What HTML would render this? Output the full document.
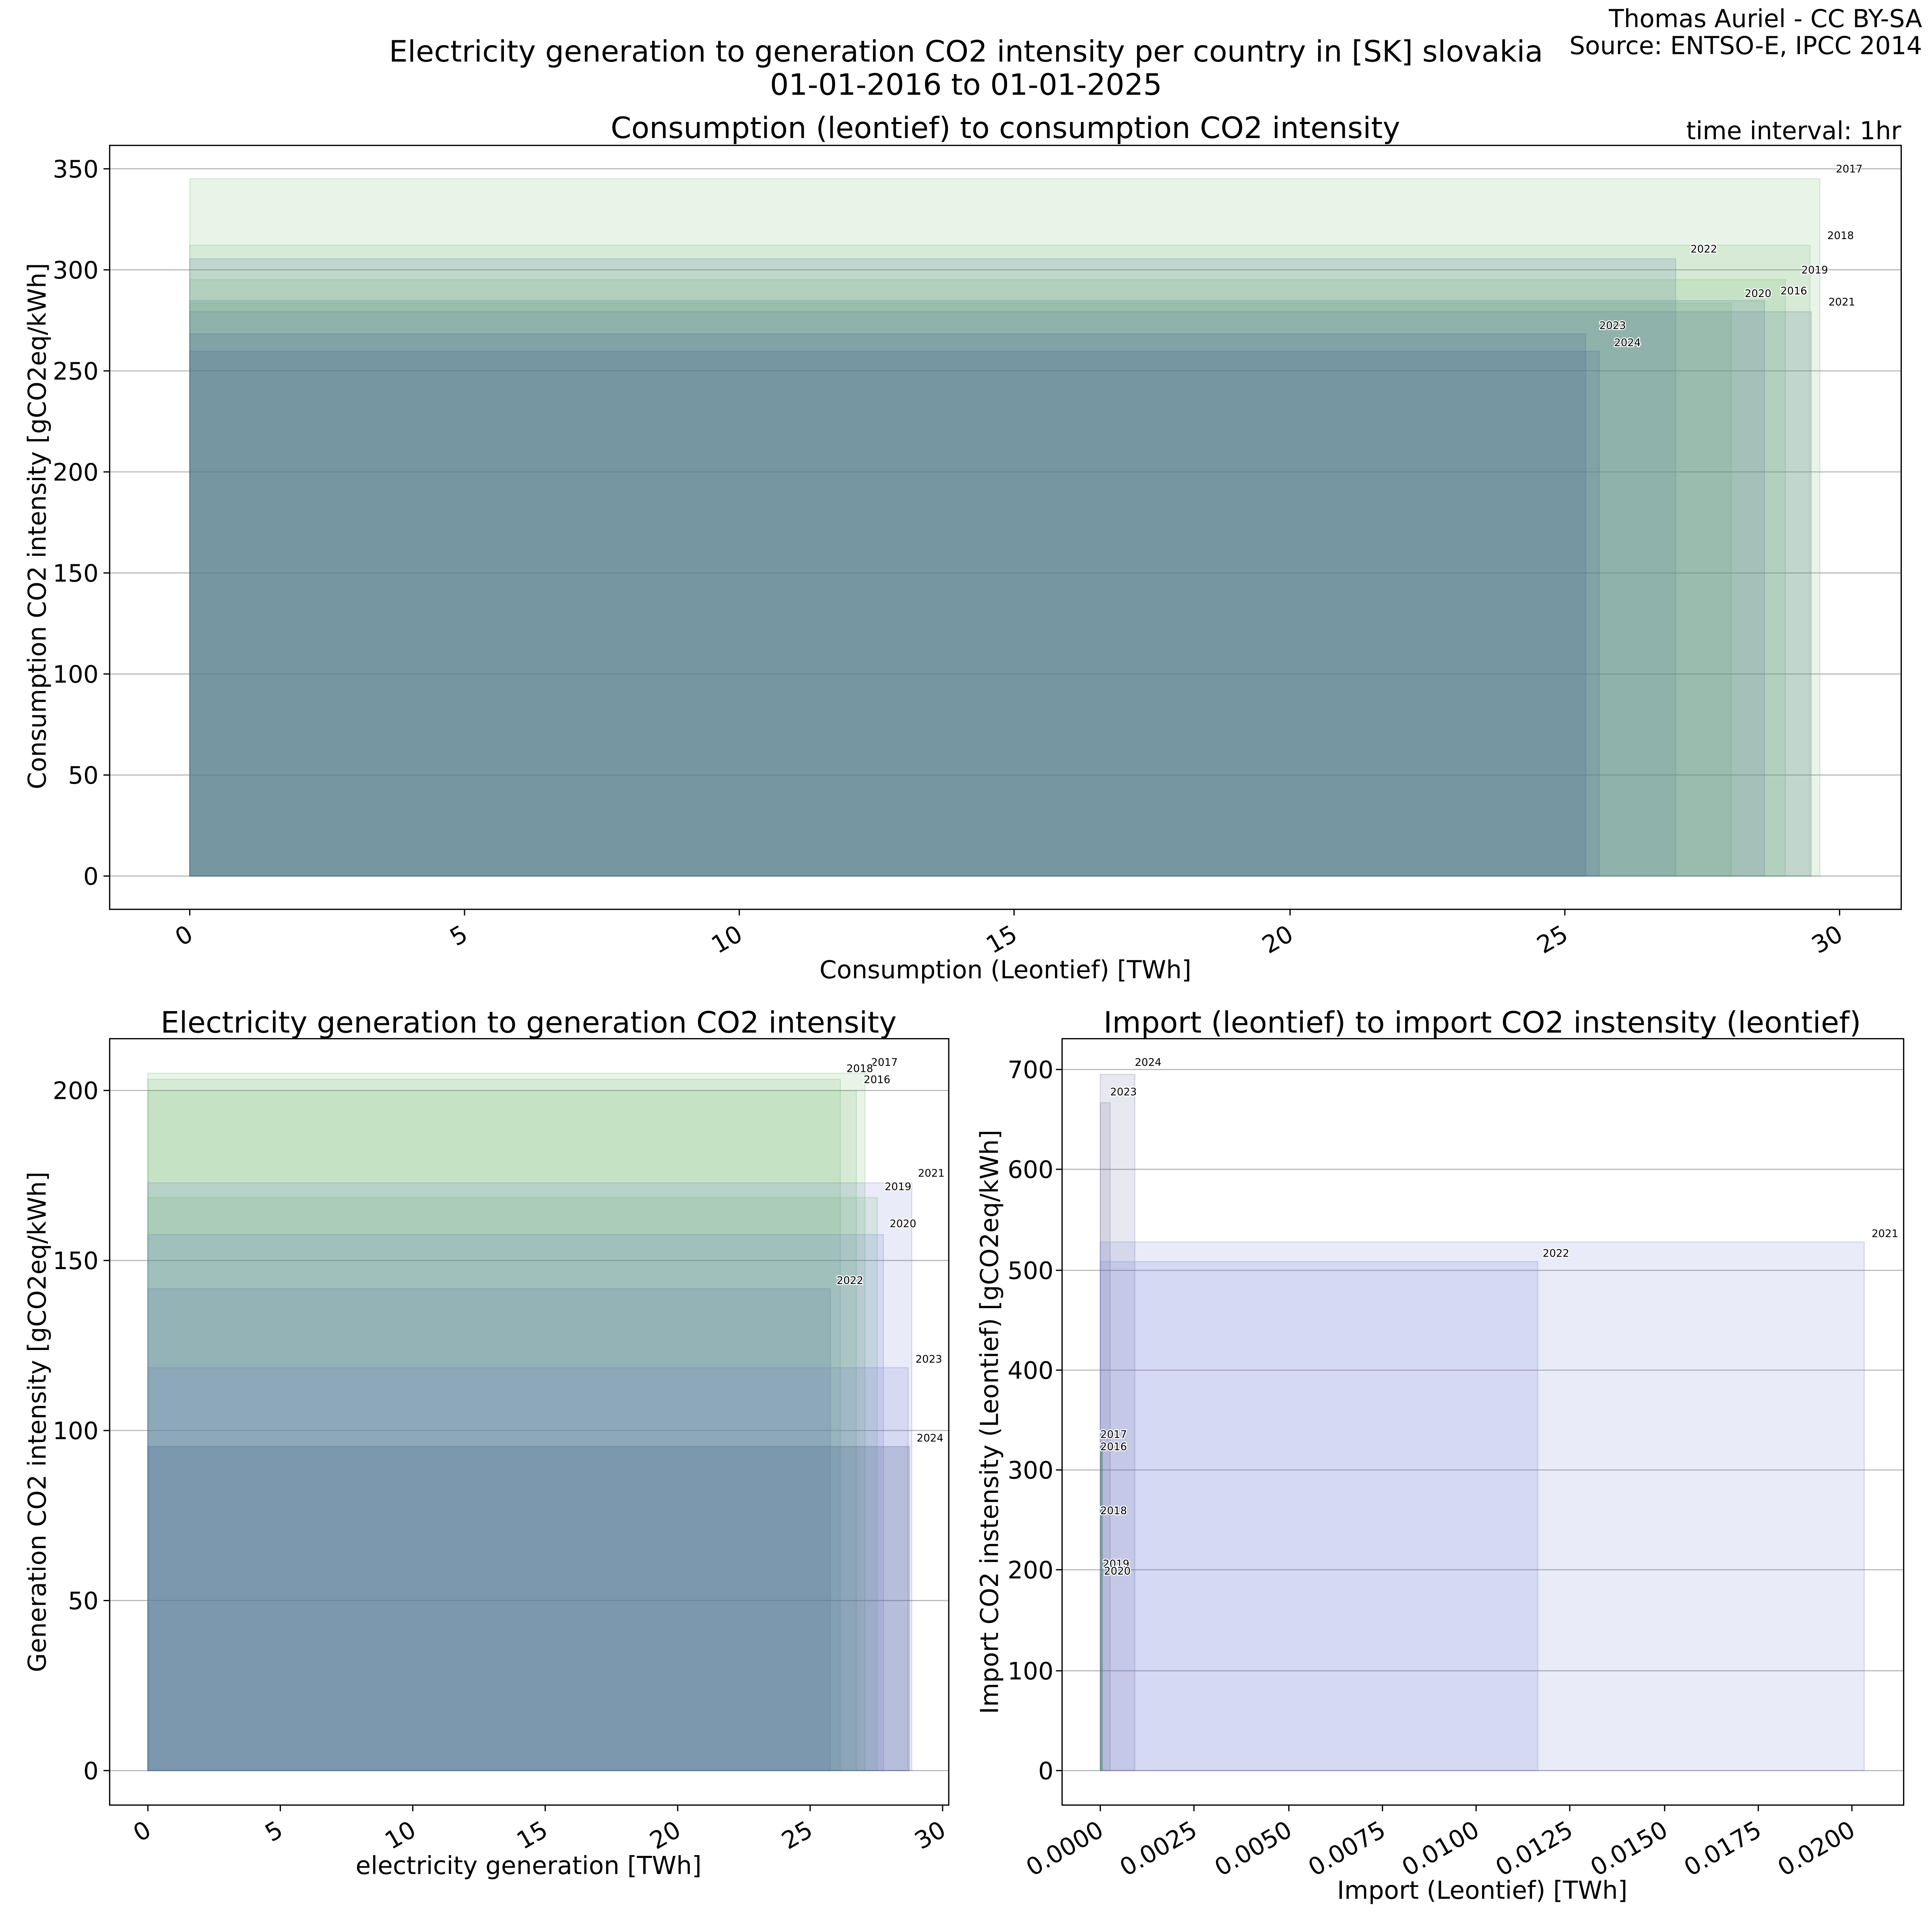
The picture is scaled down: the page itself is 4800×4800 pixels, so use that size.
<!DOCTYPE html>
<html><head><meta charset="utf-8"><style>
html,body{margin:0;padding:0;background:#fff}
svg{display:block}
text{font-family:"DejaVu Sans","Liberation Sans",sans-serif;fill:#000}
.t{font-size:19.5px}
.yl{font-size:8.5px;paint-order:stroke;stroke:#fff;stroke-width:1.6px}
.g{stroke:#b0b0b0;stroke-width:0.8}
.G{fill:rgb(102,175,102);fill-opacity:.14;stroke:rgb(102,175,102);stroke-opacity:.25;stroke-width:.8}
.B{fill:rgb(102,115,208);fill-opacity:.14;stroke:rgb(102,115,208);stroke-opacity:.25;stroke-width:.8}
.S{fill:rgb(90,120,160);fill-opacity:.17;stroke:rgb(90,120,160);stroke-opacity:.25;stroke-width:.8}
.K{fill:rgb(102,102,153);fill-opacity:.15;stroke:rgb(102,102,153);stroke-opacity:.25;stroke-width:.8}
.T{fill:rgb(75,105,150);fill-opacity:.2;stroke:rgb(75,105,150);stroke-opacity:.25;stroke-width:.8}
.T2{fill:rgb(60,85,130);fill-opacity:.2;stroke:rgb(60,85,130);stroke-opacity:.25;stroke-width:.8}
.h{font-size:24px}
.a{font-size:20px}
</style></head><body>
<svg width="4800" height="4800" viewBox="0 0 1568 1568" xmlns="http://www.w3.org/2000/svg">
<rect width="1568" height="1568" fill="#fff"/>
<text x="1560" y="22" text-anchor="end" class="a">Thomas Auriel - CC BY-SA</text>
<text x="1560" y="44" text-anchor="end" class="a">Source: ENTSO-E, IPCC 2014</text>
<text x="784" y="50" text-anchor="middle" class="h">Electricity generation to generation CO2 intensity per country in [SK] slovakia</text>
<text x="784" y="77" text-anchor="middle" class="h">01-01-2016 to 01-01-2025</text>

<!-- TOP CHART -->
<text x="816" y="112" text-anchor="middle" class="h">Consumption (leontief) to consumption CO2 intensity</text>
<text x="1543" y="113" text-anchor="end" class="a">time interval: 1hr</text>
<g>
<line class="g" x1="89" x2="1543" y1="711" y2="711"/>
<line class="g" x1="89" x2="1543" y1="629" y2="629"/>
<line class="g" x1="89" x2="1543" y1="547" y2="547"/>
<line class="g" x1="89" x2="1543" y1="465" y2="465"/>
<line class="g" x1="89" x2="1543" y1="383" y2="383"/>
<line class="g" x1="89" x2="1543" y1="301" y2="301"/>
<line class="g" x1="89" x2="1543" y1="219" y2="219"/>
<line class="g" x1="89" x2="1543" y1="137" y2="137"/>
</g>
<rect class="G" x="154" y="145" width="1323" height="566"/>
<rect class="G" x="154" y="199" width="1315" height="512"/>
<rect class="S" x="154" y="210" width="1206" height="501"/>
<rect class="G" x="154" y="227" width="1295" height="484"/>
<rect class="S" x="154" y="244" width="1278" height="467"/>
<rect class="G" x="154" y="246" width="1251" height="465"/>
<rect class="S" x="154" y="253" width="1316" height="458"/>
<rect class="T" x="154" y="271" width="1133" height="440"/>
<rect class="T" x="154" y="285" width="1144" height="426"/>
<g class="yl">
<text x="1490" y="140">2017</text><text x="1483" y="194">2018</text><text x="1372" y="205">2022</text>
<text x="1462" y="222">2019</text><text x="1445" y="239">2016</text><text x="1416" y="241">2020</text>
<text x="1484" y="248">2021</text><text x="1298" y="267">2023</text><text x="1310" y="281">2024</text>
</g>
<rect x="89" y="118" width="1454" height="620" fill="none" stroke="#000" stroke-width="1"/>
<g class="t" text-anchor="end">
<text x="80" y="718">0</text><text x="80" y="636">50</text><text x="80" y="554">100</text><text x="80" y="472">150</text>
<text x="80" y="390">200</text><text x="80" y="308">250</text><text x="80" y="226">300</text><text x="80" y="144">350</text>
</g>
<g stroke="#000" stroke-width="1">
<line x1="84" x2="89" y1="711" y2="711"/><line x1="84" x2="89" y1="629" y2="629"/><line x1="84" x2="89" y1="547" y2="547"/><line x1="84" x2="89" y1="465" y2="465"/><line x1="84" x2="89" y1="383" y2="383"/><line x1="84" x2="89" y1="301" y2="301"/><line x1="84" x2="89" y1="219" y2="219"/><line x1="84" x2="89" y1="137" y2="137"/>
<line y1="738" y2="743" x1="154" x2="154"/><line y1="738" y2="743" x1="377" x2="377"/><line y1="738" y2="743" x1="600" x2="600"/><line y1="738" y2="743" x1="823" x2="823"/><line y1="738" y2="743" x1="1047" x2="1047"/><line y1="738" y2="743" x1="1270" x2="1270"/><line y1="738" y2="743" x1="1493" x2="1493"/>
</g>
<g class="t" text-anchor="end">
<text transform="translate(158,762) rotate(-30)">0</text>
<text transform="translate(381,762) rotate(-30)">5</text>
<text transform="translate(604,762) rotate(-30)">10</text>
<text transform="translate(827,762) rotate(-30)">15</text>
<text transform="translate(1051,762) rotate(-30)">20</text>
<text transform="translate(1274,762) rotate(-30)">25</text>
<text transform="translate(1497,762) rotate(-30)">30</text>
</g>
<text x="816" y="794" text-anchor="middle" class="a">Consumption (Leontief) [TWh]</text>
<text transform="translate(37,427) rotate(-90)" text-anchor="middle" class="a">Consumption CO2 intensity [gCO2eq/kWh]</text>

<!-- BOTTOM LEFT -->
<text x="429" y="838" text-anchor="middle" class="h">Electricity generation to generation CO2 intensity</text>
<g>
<line class="g" x1="89" x2="770" y1="1437" y2="1437"/><line class="g" x1="89" x2="770" y1="1299" y2="1299"/>
<line class="g" x1="89" x2="770" y1="1161" y2="1161"/><line class="g" x1="89" x2="770" y1="1023" y2="1023"/>
<line class="g" x1="89" x2="770" y1="885" y2="885"/>
</g>
<rect class="G" x="120" y="871" width="582" height="566"/>
<rect class="G" x="120" y="876" width="562" height="561"/>
<rect class="G" x="120" y="885" width="575" height="552"/>
<rect class="B" x="120" y="960" width="620" height="477"/>
<rect class="G" x="120" y="972" width="592" height="465"/>
<rect class="B" x="120" y="1002" width="597" height="435"/>
<rect class="S" x="120" y="1046" width="554" height="391"/>
<rect class="B" x="120" y="1110" width="617" height="327"/>
<rect class="T2" x="120" y="1174" width="618" height="263"/>
<g class="yl">
<text x="707" y="865">2017</text><text x="687" y="870">2018</text><text x="701" y="879">2016</text>
<text x="745" y="955">2021</text><text x="718" y="966">2019</text><text x="722" y="996">2020</text>
<text x="679" y="1042">2022</text><text x="743" y="1106">2023</text><text x="744" y="1170">2024</text>
</g>
<rect x="89" y="843" width="681" height="622" fill="none" stroke="#000" stroke-width="1"/>
<g class="t" text-anchor="end">
<text x="80" y="1444">0</text><text x="80" y="1306">50</text><text x="80" y="1168">100</text><text x="80" y="1030">150</text><text x="80" y="892">200</text>
</g>
<g stroke="#000" stroke-width="1">
<line x1="84" x2="89" y1="1437" y2="1437"/><line x1="84" x2="89" y1="1299" y2="1299"/><line x1="84" x2="89" y1="1161" y2="1161"/><line x1="84" x2="89" y1="1023" y2="1023"/><line x1="84" x2="89" y1="885" y2="885"/>
<line y1="1465" y2="1470" x1="120" x2="120"/><line y1="1465" y2="1470" x1="227.5" x2="227.5"/><line y1="1465" y2="1470" x1="335" x2="335"/><line y1="1465" y2="1470" x1="442.5" x2="442.5"/><line y1="1465" y2="1470" x1="550" x2="550"/><line y1="1465" y2="1470" x1="657.5" x2="657.5"/><line y1="1465" y2="1470" x1="765" x2="765"/>
</g>
<g class="t" text-anchor="end">
<text transform="translate(124,1489) rotate(-30)">0</text>
<text transform="translate(231,1489) rotate(-30)">5</text>
<text transform="translate(339,1489) rotate(-30)">10</text>
<text transform="translate(446,1489) rotate(-30)">15</text>
<text transform="translate(554,1489) rotate(-30)">20</text>
<text transform="translate(661,1489) rotate(-30)">25</text>
<text transform="translate(769,1489) rotate(-30)">30</text>
</g>
<text x="429" y="1521" text-anchor="middle" class="a">electricity generation [TWh]</text>
<text transform="translate(37,1154) rotate(-90)" text-anchor="middle" class="a">Generation CO2 intensity [gCO2eq/kWh]</text>

<!-- BOTTOM RIGHT -->
<text x="1203" y="838" text-anchor="middle" class="h">Import (leontief) to import CO2 instensity (leontief)</text>
<g>
<line class="g" x1="862" x2="1545" y1="1437" y2="1437"/><line class="g" x1="862" x2="1545" y1="1356" y2="1356"/>
<line class="g" x1="862" x2="1545" y1="1274" y2="1274"/><line class="g" x1="862" x2="1545" y1="1193" y2="1193"/>
<line class="g" x1="862" x2="1545" y1="1112" y2="1112"/><line class="g" x1="862" x2="1545" y1="1031" y2="1031"/>
<line class="g" x1="862" x2="1545" y1="949" y2="949"/><line class="g" x1="862" x2="1545" y1="868" y2="868"/>
</g>
<rect class="K" x="893" y="872" width="28" height="565"/>
<rect class="K" x="893" y="895" width="8" height="542"/>
<rect class="B" x="893" y="1008" width="620" height="429"/>
<rect class="B" x="893" y="1024" width="355" height="413"/>
<rect x="893" y="1170" width="2" height="267" fill="rgb(60,130,80)" fill-opacity=".5"/>
<g class="yl">
<text x="921" y="865">2024</text><text x="901" y="889">2023</text><text x="1519" y="1004">2021</text>
<text x="1252" y="1020">2022</text><text x="893" y="1167">2017</text><text x="893" y="1177">2016</text>
<text x="893" y="1229">2018</text><text x="895" y="1272">2019</text><text x="896" y="1278">2020</text>
</g>
<rect x="862" y="843" width="683" height="622" fill="none" stroke="#000" stroke-width="1"/>
<g class="t" text-anchor="end">
<text x="855" y="1444">0</text><text x="855" y="1363">100</text><text x="855" y="1281">200</text><text x="855" y="1200">300</text>
<text x="855" y="1119">400</text><text x="855" y="1038">500</text><text x="855" y="956">600</text><text x="855" y="875">700</text>
</g>
<g stroke="#000" stroke-width="1">
<line x1="857" x2="862" y1="1437" y2="1437"/><line x1="857" x2="862" y1="1356" y2="1356"/><line x1="857" x2="862" y1="1274" y2="1274"/><line x1="857" x2="862" y1="1193" y2="1193"/><line x1="857" x2="862" y1="1112" y2="1112"/><line x1="857" x2="862" y1="1031" y2="1031"/><line x1="857" x2="862" y1="949" y2="949"/><line x1="857" x2="862" y1="868" y2="868"/>
<line y1="1465" y2="1470" x1="893" x2="893"/><line y1="1465" y2="1470" x1="969" x2="969"/><line y1="1465" y2="1470" x1="1046" x2="1046"/><line y1="1465" y2="1470" x1="1122" x2="1122"/><line y1="1465" y2="1470" x1="1198" x2="1198"/><line y1="1465" y2="1470" x1="1274" x2="1274"/><line y1="1465" y2="1470" x1="1351" x2="1351"/><line y1="1465" y2="1470" x1="1427" x2="1427"/><line y1="1465" y2="1470" x1="1503" x2="1503"/>
</g>
<g class="t" text-anchor="end">
<text transform="translate(897,1489) rotate(-30)">0.0000</text>
<text transform="translate(973,1489) rotate(-30)">0.0025</text>
<text transform="translate(1050,1489) rotate(-30)">0.0050</text>
<text transform="translate(1126,1489) rotate(-30)">0.0075</text>
<text transform="translate(1202,1489) rotate(-30)">0.0100</text>
<text transform="translate(1278,1489) rotate(-30)">0.0125</text>
<text transform="translate(1355,1489) rotate(-30)">0.0150</text>
<text transform="translate(1431,1489) rotate(-30)">0.0175</text>
<text transform="translate(1507,1489) rotate(-30)">0.0200</text>
</g>
<text x="1203" y="1541" text-anchor="middle" class="a">Import (Leontief) [TWh]</text>
<text transform="translate(810,1154) rotate(-90)" text-anchor="middle" class="a">Import CO2 instensity (Leontief) [gCO2eq/kWh]</text>
</svg>
</body></html>
